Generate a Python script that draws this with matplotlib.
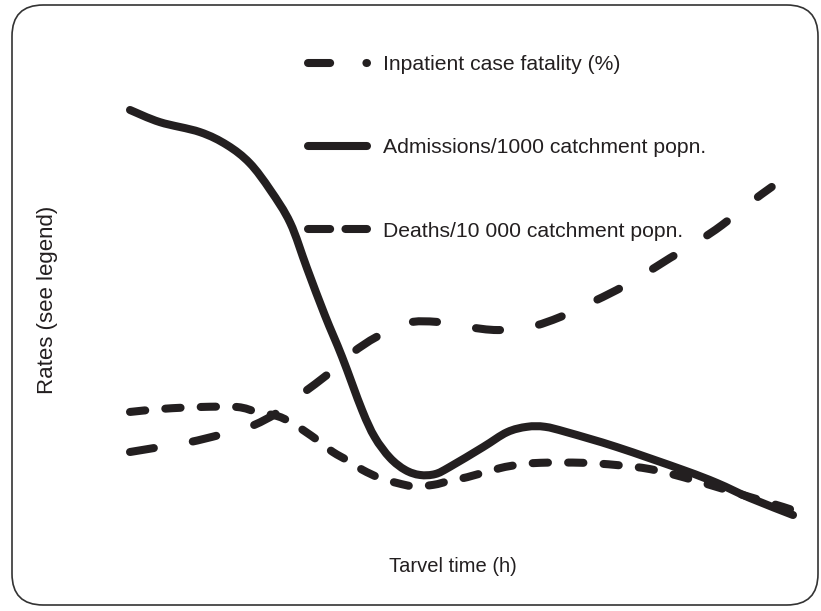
import numpy as np
import matplotlib.pyplot as plt
from matplotlib.lines import Line2D
from matplotlib.patches import FancyBboxPatch, PathPatch
from matplotlib.path import Path

plt.rcParams['font.family'] = ['Liberation Sans', 'DejaVu Sans']

ink = '#231f20'

# travel time (arbitrary units, 0-10) and rates (arbitrary units)
adm_x = [0.00, 0.45, 1.05, 1.46, 1.80, 2.11, 2.41, 2.66, 2.93, 3.19, 3.49, 3.68,
         3.91, 4.14, 4.36, 4.59, 4.81, 5.31, 5.67, 5.97, 6.24, 6.57, 7.32,
         8.32, 8.83, 9.32, 9.97]
adm_y = [10.00, 9.73, 9.51, 9.22, 8.82, 8.22, 7.49, 6.49, 5.44, 4.51, 3.33, 2.73,
         2.27, 2.00, 1.89, 1.91, 2.07, 2.51, 2.84, 2.96, 2.96, 2.84, 2.51,
         2.00, 1.71, 1.38, 1.00]

fat_x = [0.00, 0.45, 0.90, 1.35, 1.80, 2.21, 2.60, 2.96, 3.34, 3.71, 4.17, 4.62,
         5.07, 5.53, 6.02, 6.47, 6.89, 7.32, 7.71, 8.12, 8.53, 8.90, 9.28, 9.65]
fat_y = [2.40, 2.51, 2.62, 2.78, 2.96, 3.27, 3.71, 4.11, 4.60, 4.96, 5.27, 5.29,
         5.18, 5.11, 5.18, 5.40, 5.69, 6.00, 6.33, 6.71, 7.07, 7.44, 7.89, 8.29]

death_x = [0.00, 0.50, 1.05, 1.61, 1.91, 2.21, 2.41, 2.60, 2.86, 3.05, 3.31, 3.50,
           3.76, 4.02, 4.26, 4.56, 4.81, 5.07, 5.56, 5.82, 6.17, 6.81, 7.32, 7.82,
           8.32, 8.83, 9.32, 9.82, 10.00]
death_y = [3.29, 3.36, 3.40, 3.40, 3.29, 3.20, 3.07, 2.89, 2.62, 2.40, 2.18, 2.00,
           1.82, 1.71, 1.64, 1.67, 1.76, 1.84, 2.04, 2.11, 2.16, 2.16, 2.11, 2.02,
           1.84, 1.62, 1.40, 1.18, 1.09]

labels = ['Inpatient case fatality (%)',
          'Admissions/1000 catchment popn.',
          'Deaths/10 000 catchment popn.']


def smooth_path(xs, ys):
    # cubic bezier through the points (catmull-rom tangents)
    p = np.column_stack([xs, ys])
    ext = np.vstack([p[0], p, p[-1]])
    verts = [p[0]]
    codes = [Path.MOVETO]
    for i in range(len(p) - 1):
        c1 = ext[i + 1] + (ext[i + 2] - ext[i]) / 6
        c2 = ext[i + 2] - (ext[i + 3] - ext[i + 1]) / 6
        verts += [c1, c2, ext[i + 2]]
        codes += [Path.CURVE4] * 3
    return Path(verts, codes)


fig = plt.figure(figsize=(8.21, 6.11), dpi=100)
ax = fig.add_axes([0, 0, 1, 1])
ax.set_xlim(-1.955, 10.391)
ax.set_ylim(-1.133, 12.444)
ax.axis('off')

lw = 5.8
for xs, ys, ls in [(fat_x, fat_y, (0, (3.0, 4.9))),
                   (death_x, death_y, (0, (1.9, 2.5))),
                   (adm_x, adm_y, '-')]:
    patch = PathPatch(smooth_path(xs, ys), fill=False, ec=ink, lw=lw, ls=ls,
                      capstyle='round', joinstyle='round')
    ax.add_patch(patch)

kw = dict(color=ink, lw=lw, solid_capstyle='round', dash_capstyle='round')
handles = [Line2D([], [], ls=(0, (2.75, 4.5, 0.1, 20)), **kw),
           Line2D([], [], ls='-', **kw),
           Line2D([], [], ls=(0, (2.75, 1.9)), **kw)]
ax.legend(handles, labels, loc='upper left', bbox_to_anchor=(308 / 821, 1 - 55 / 611),
          frameon=False, fontsize=15.2, handlelength=2.8, handletextpad=0.75,
          labelspacing=3.05, borderpad=0, borderaxespad=0, labelcolor=ink)

fig.text(47 / 821, 1 - 300 / 611, 'Rates (see legend)', rotation=90, fontsize=16,
         ha='center', va='center', color=ink)
fig.text(453 / 821, 1 - 566 / 611, 'Tarvel time (h)', fontsize=14.5,
         ha='center', va='center', color=ink)

border = FancyBboxPatch((12 / 821, 6 / 611), 806 / 821, 600 / 611,
                        boxstyle='round,pad=0,rounding_size=0.038',
                        transform=fig.transFigure, fill=False, ec='#333333', lw=1.2,
                        mutation_aspect=821 / 611)
fig.patches.append(border)

fig.savefig('out.png', dpi=100)
